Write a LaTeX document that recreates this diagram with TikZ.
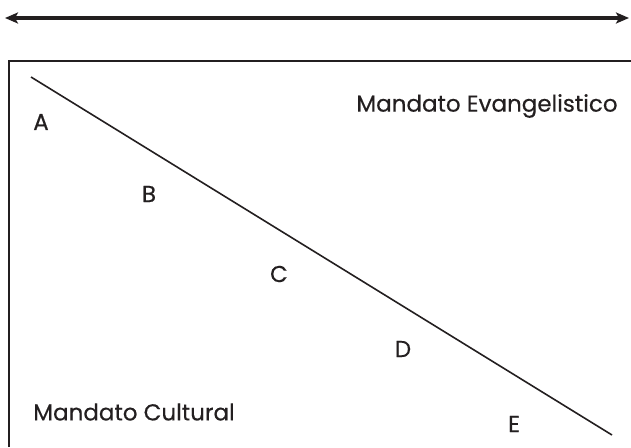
\documentclass[tikz,border=0pt]{standalone}
\usepackage{fontspec}
\setmainfont{Poppins}[UprightFeatures={FakeBold=0.4}]
\usepackage{tikz}
\usetikzlibrary{arrows.meta,positioning}
\definecolor{inkx}{HTML}{231F20}
\tikzset{
  ar/.style={{Stealth[length=13pt,width=11pt,inset=3pt]}-{Stealth[length=13pt,width=11pt,inset=3pt]},line width=3.2pt,inkx},
  lbl/.style={font=\fontsize{23}{26}\selectfont,text=inkx,inner sep=0pt}
}
\begin{document}
\begin{tikzpicture}[x=1pt,y=-1pt]
\useasboundingbox (0,0) rectangle (631,447);
% top arrow
\coordinate (L) at (5,18); \coordinate (R) at (629,18);
\draw[ar] (L)--(R);
% frame, open to the right and bottom
\draw[inkx,line width=2pt] (9,447)--(9,61)--(631,61);
% diagonal
\coordinate (S) at (31,77); \coordinate (T) at (612,435);
\draw[inkx,line width=1.6pt] (S)--(T);
\node[lbl] (a) at (41,122) {A};
\node[lbl] (b) at (149,194) {B};
\node[lbl] (c) at (279,274) {C};
\node[lbl] (d) at (403,349) {D};
\node[lbl] (e) at (514,424) {E};
\node[lbl] (ev) at (487,106) {Mandato Evangelistico};
\node[lbl] (cu) at (134,412) {Mandato Cultural};
\end{tikzpicture}
\end{document}
